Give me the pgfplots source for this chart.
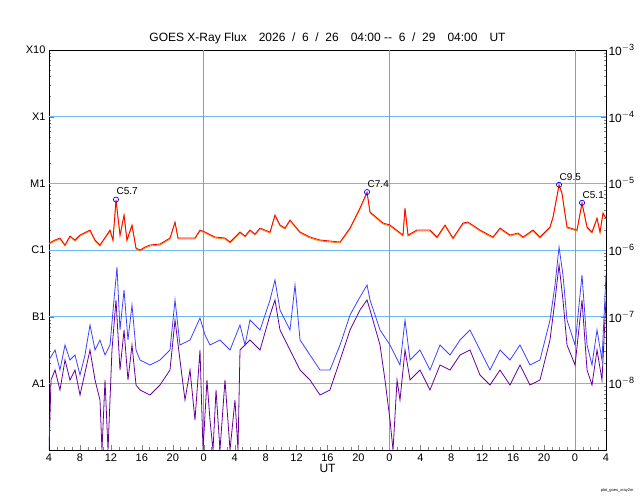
\documentclass[border=0pt]{standalone}
\usepackage{pgfplots}
\pgfplotsset{compat=1.18}
\usepackage{fontspec}
\setmainfont{Liberation Sans}
\definecolor{gridblue}{RGB}{110,185,240}
\newcommand{\rl}[1]{\fontsize{12}{14}\selectfont 10\raisebox{0.8ex}{\fontsize{9}{10}\selectfont #1}}
\begin{document}
\begin{tikzpicture}[x=1pt,y=1pt]
\useasboundingbox (-49,-50) rectangle (591,450);
\begin{axis}[
  scale only axis, width=557pt, height=400pt,
  xmin=0, xmax=72, ymin=-9, ymax=-3,
  xtick={0,4,...,72},
  xticklabels={4,8,12,16,20,0,4,8,12,16,20,0,4,8,12,16,20,0,4},
  minor xtick={0,1,...,72},
  ytick={-8,-7,-6,-5,-4,-3},
  yticklabels={A1,B1,C1,M1,X1,X10},
  minor ytick={-8.699,-8.523,-8.398,-8.301,-8.222,-8.155,-8.097,-8.046,
   -7.699,-7.523,-7.398,-7.301,-7.222,-7.155,-7.097,-7.046,
   -6.699,-6.523,-6.398,-6.301,-6.222,-6.155,-6.097,-6.046,
   -5.699,-5.523,-5.398,-5.301,-5.222,-5.155,-5.097,-5.046,
   -4.699,-4.523,-4.398,-4.301,-4.222,-4.155,-4.097,-4.046,
   -3.699,-3.523,-3.398,-3.301,-3.222,-3.155,-3.097,-3.046},
  ytick pos=both, xtick pos=bottom,
  major tick length=5pt, minor tick length=2.5pt,
  tick align=inside,
  tick label style={font=\fontsize{11}{13}\selectfont},
  xlabel={UT}, xlabel style={font=\fontsize{12}{14}\selectfont, yshift=4pt},
  title={GOES X-Ray Flux\quad 2026 \ / \ 6 \ / \ 26\quad 04:00 {-}{-} \ 6 \ / \ 29\quad 04:00\quad UT},
  title style={font=\fontsize{12}{14}\selectfont, yshift=-4pt},
  axis line style={black, line width=0.8pt},
  clip=true,
]
\pgfplotsinvokeforeach{-8,-7,-6,-5,-4}{\draw[gridblue, line width=0.9pt] (axis cs:0,#1) -- (axis cs:72,#1);}
\pgfplotsinvokeforeach{20,44,68}{\draw[gray!80, line width=0.9pt] (axis cs:#1,-9) -- (axis cs:#1,-3);}
% purple
\addplot[color=violet!80!blue, line width=0.8pt] coordinates {
(0,-9.0)(0.26,-7.95)(0.78,-7.80)(1.42,-8.10)(2.07,-7.65)(2.71,-7.95)(3.36,-7.80)(4.01,-8.175)(5.30,-7.50)(5.95,-7.95)(6.59,-8.25)(6.85,-9)(7.24,-7.95)(7.63,-9)(8.14,-7.50)(8.66,-6.75)(9.18,-7.80)(9.70,-7.20)(10.21,-7.95)(10.73,-7.425)(11.25,-8.025)(11.76,-8.10)(13.06,-8.175)(14.35,-8.025)(15.64,-7.80)(16.29,-7.05)(16.93,-7.65)(17.58,-8.25)(18.23,-7.80)(18.87,-8.55)(19.52,-7.50)(19.91,-9)(20.42,-7.95)(20.81,-8.55)(21.20,-9)(21.59,-8.10)(22.10,-9)(22.75,-7.95)(23.40,-9)(24.04,-8.25)(24.43,-9)(24.69,-7.50)(25.98,-7.35)(27.28,-7.50)(28.57,-6.975)(29.21,-6.75)(29.86,-7.20)(31.15,-7.50)(32.45,-7.80)(33.74,-7.95)(35.03,-8.175)(36.32,-8.10)(37.62,-7.65)(38.91,-7.20)(40.20,-6.90)(41.11,-6.75)(41.50,-6.90)(42.79,-7.425)(43.43,-7.95)(44.08,-8.55)(44.47,-9)(44.99,-7.95)(45.37,-8.25)(46.02,-7.50)(46.67,-7.95)(47.96,-7.80)(49.25,-8.10)(50.54,-7.725)(51.84,-7.80)(53.13,-7.575)(54.42,-7.50)(55.71,-7.875)(57.01,-8.025)(58.30,-7.80)(59.59,-8.025)(60.88,-7.725)(62.18,-8.025)(63.47,-7.95)(64.76,-7.35)(65.41,-6.75)(65.93,-6.225)(66.44,-6.75)(66.96,-7.425)(68.00,-7.725)(68.90,-6.75)(69.55,-7.80)(70.19,-8.025)(70.84,-7.50)(71.48,-7.95)(72.0,-6.75)};
% blue
\addplot[color=blue!75, line width=0.8pt] coordinates {
(0,-7.65)(0.78,-7.50)(1.42,-7.80)(2.07,-7.425)(2.71,-7.65)(3.36,-7.575)(4.01,-7.875)(4.65,-7.575)(5.30,-7.125)(5.95,-7.50)(6.59,-7.35)(7.24,-7.575)(7.89,-7.425)(8.40,-6.75)(8.79,-6.255)(9.18,-7.20)(9.70,-6.60)(10.21,-7.35)(10.73,-6.825)(11.25,-7.50)(11.76,-7.65)(13.06,-7.725)(14.35,-7.65)(15.64,-7.50)(16.29,-6.75)(16.93,-7.425)(18.23,-7.35)(19.52,-7.02)(20.17,-7.275)(20.81,-7.425)(22.10,-7.35)(23.40,-7.50)(24.69,-7.125)(25.34,-7.425)(25.98,-7.05)(27.28,-7.20)(28.57,-6.75)(29.21,-6.45)(29.86,-6.90)(31.15,-7.20)(31.80,-6.525)(32.45,-7.35)(33.74,-7.575)(35.03,-7.80)(36.32,-7.80)(37.62,-7.425)(38.91,-6.975)(40.20,-6.705)(41.11,-6.525)(41.50,-6.75)(42.79,-7.20)(44.08,-7.425)(45.37,-7.725)(46.02,-7.05)(46.67,-7.65)(47.96,-7.50)(49.25,-7.80)(50.54,-7.425)(51.84,-7.575)(53.13,-7.35)(54.42,-7.20)(55.71,-7.50)(57.01,-7.80)(58.30,-7.50)(59.59,-7.65)(60.88,-7.425)(62.18,-7.725)(63.47,-7.65)(64.76,-7.05)(65.41,-6.525)(65.93,-5.955)(66.44,-6.375)(66.96,-7.05)(68.00,-7.425)(68.90,-6.375)(69.55,-7.425)(70.19,-7.725)(70.84,-7.20)(71.48,-7.65)(72.0,-6.375)};
\addplot[color=orange, line width=0.8pt, yshift=-1pt] coordinates {(0,-5.895)(0.78,-5.85)(1.42,-5.82)(2.07,-5.925)(2.71,-5.79)(3.36,-5.85)(4.01,-5.775)(5.30,-5.70)(5.95,-5.85)(6.59,-5.925)(7.89,-5.70)(8.27,-5.85)(8.66,-5.244)(9.18,-5.775)(9.70,-5.475)(10.08,-5.85)(10.73,-5.625)(11.25,-5.97)(11.76,-6.00)(12.41,-5.955)(13.06,-5.925)(14.35,-5.91)(15.64,-5.82)(16.29,-5.58)(16.68,-5.82)(17.58,-5.82)(18.87,-5.82)(19.52,-5.70)(20.17,-5.73)(21.46,-5.805)(22.75,-5.82)(23.40,-5.88)(24.69,-5.73)(25.34,-5.79)(25.98,-5.70)(26.63,-5.76)(27.28,-5.67)(28.57,-5.73)(29.21,-5.475)(29.86,-5.625)(30.51,-5.67)(31.15,-5.55)(32.45,-5.73)(33.74,-5.805)(35.03,-5.85)(37.62,-5.88)(38.91,-5.67)(40.20,-5.37)(41.11,-5.131)(41.50,-5.43)(43.18,-5.595)(44.08,-5.625)(45.76,-5.775)(46.02,-5.37)(46.41,-5.775)(47.57,-5.70)(49.25,-5.70)(50.16,-5.805)(51.19,-5.625)(52.22,-5.82)(53.52,-5.595)(54.16,-5.58)(55.71,-5.70)(57.39,-5.805)(58.30,-5.67)(59.59,-5.775)(60.63,-5.745)(61.27,-5.805)(62.56,-5.70)(63.47,-5.805)(64.76,-5.655)(65.15,-5.505)(65.93,-5.022)(66.31,-5.145)(66.96,-5.655)(68.25,-5.70)(68.90,-5.292)(69.55,-5.655)(70.19,-5.73)(70.84,-5.52)(71.23,-5.73)(71.61,-5.445)(72.0,-5.52)};
\addplot[color=red, line width=0.8pt] coordinates {(0,-5.895)(0.78,-5.85)(1.42,-5.82)(2.07,-5.925)(2.71,-5.79)(3.36,-5.85)(4.01,-5.775)(5.30,-5.70)(5.95,-5.85)(6.59,-5.925)(7.89,-5.70)(8.27,-5.85)(8.66,-5.244)(9.18,-5.775)(9.70,-5.475)(10.08,-5.85)(10.73,-5.625)(11.25,-5.97)(11.76,-6.00)(12.41,-5.955)(13.06,-5.925)(14.35,-5.91)(15.64,-5.82)(16.29,-5.58)(16.68,-5.82)(17.58,-5.82)(18.87,-5.82)(19.52,-5.70)(20.17,-5.73)(21.46,-5.805)(22.75,-5.82)(23.40,-5.88)(24.69,-5.73)(25.34,-5.79)(25.98,-5.70)(26.63,-5.76)(27.28,-5.67)(28.57,-5.73)(29.21,-5.475)(29.86,-5.625)(30.51,-5.67)(31.15,-5.55)(32.45,-5.73)(33.74,-5.805)(35.03,-5.85)(37.62,-5.88)(38.91,-5.67)(40.20,-5.37)(41.11,-5.131)(41.50,-5.43)(43.18,-5.595)(44.08,-5.625)(45.76,-5.775)(46.02,-5.37)(46.41,-5.775)(47.57,-5.70)(49.25,-5.70)(50.16,-5.805)(51.19,-5.625)(52.22,-5.82)(53.52,-5.595)(54.16,-5.58)(55.71,-5.70)(57.39,-5.805)(58.30,-5.67)(59.59,-5.775)(60.63,-5.745)(61.27,-5.805)(62.56,-5.70)(63.47,-5.805)(64.76,-5.655)(65.15,-5.505)(65.93,-5.022)(66.31,-5.145)(66.96,-5.655)(68.25,-5.70)(68.90,-5.292)(69.55,-5.655)(70.19,-5.73)(70.84,-5.52)(71.23,-5.73)(71.61,-5.445)(72.0,-5.52)};
\addplot[only marks, mark=o, mark size=2.6pt, color=blue, line width=0.7pt,
  nodes near coords, point meta=explicit symbolic,
  nodes near coords style={black, font=\fontsize{10}{12}\selectfont, anchor=south west, xshift=-3pt, yshift=1pt}]
  coordinates {(8.66,-5.244)[C5.7] (41.11,-5.131)[C7.4] (65.93,-5.022)[C9.5] (68.90,-5.292)[C5.1]};
\end{axis}
\begin{axis}[
  scale only axis, width=557pt, height=400pt,
  xmin=0, xmax=72, ymin=-9, ymax=-3,
  axis x line=none, axis y line*=right,
  ytick={-8,-7,-6,-5,-4,-3},
  yticklabels={\rl{$-$8},\rl{$-$7},\rl{$-$6},\rl{$-$5},\rl{$-$4},\rl{$-$3}},
  yticklabel style={anchor=west, xshift=-1pt},
  major tick length=0pt,
  axis line style={draw=none},
]
\end{axis}
\node[anchor=south east, font=\fontsize{4}{5}\selectfont] at (588,-46) {plot\_goes\_xray2m};
\end{tikzpicture}
\end{document}
